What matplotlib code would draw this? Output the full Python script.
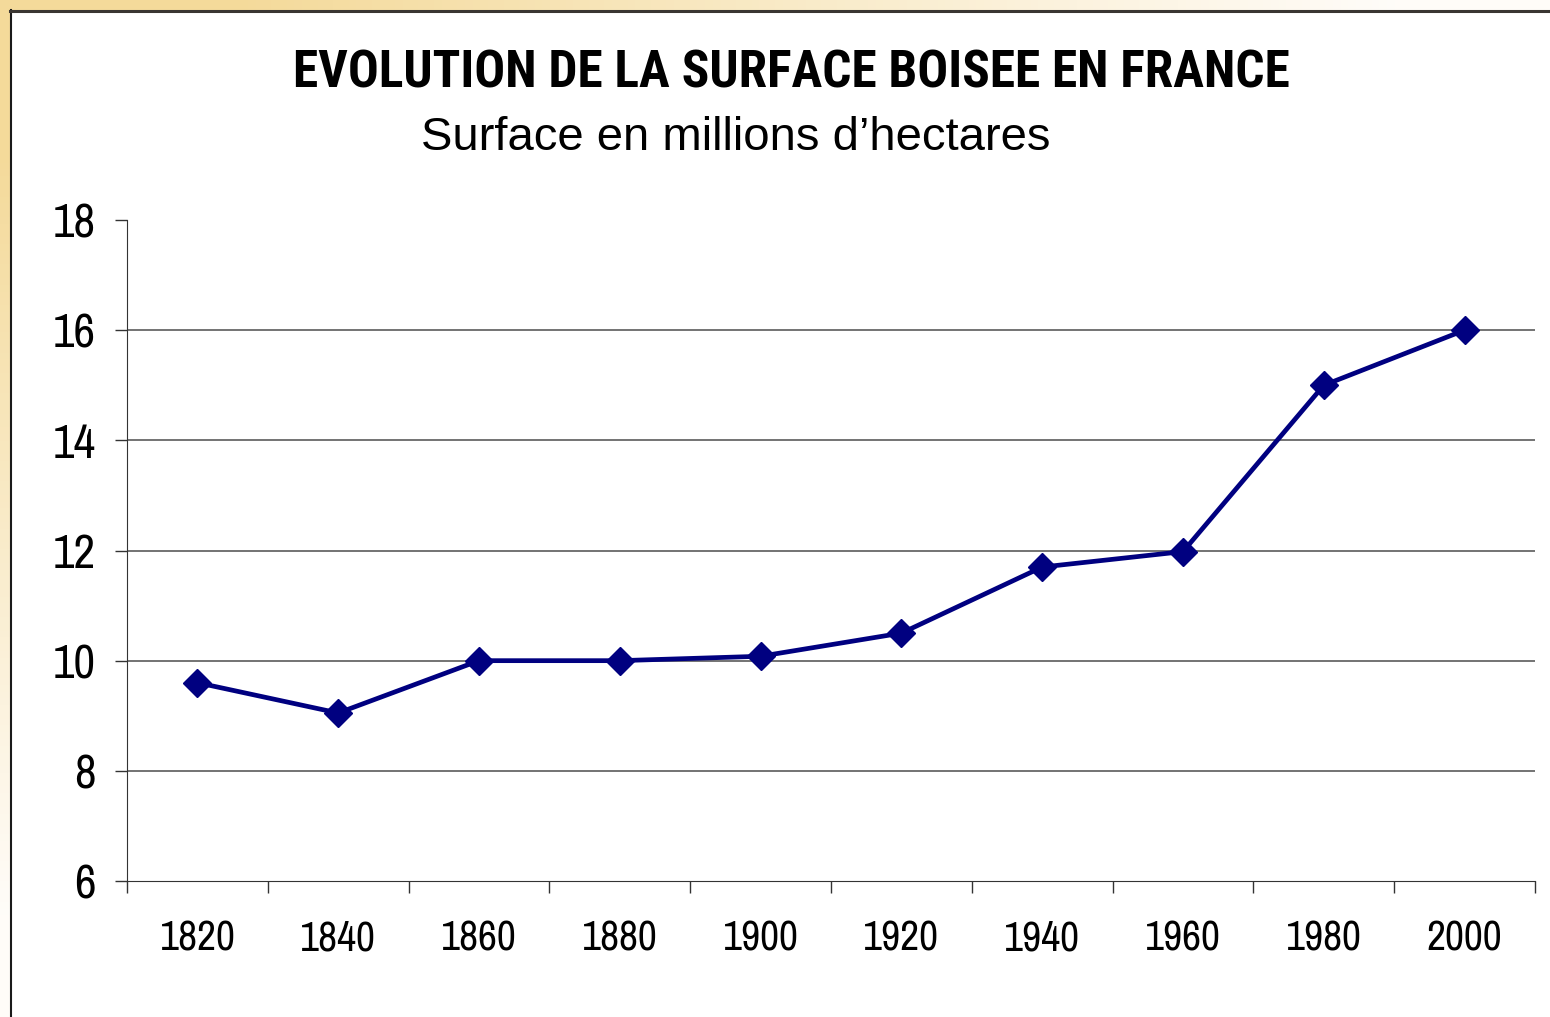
import numpy as np
import matplotlib
matplotlib.use("Agg")
import matplotlib.pyplot as plt
from matplotlib.ticker import FixedLocator, NullFormatter

years = ['1820', '1840', '1860', '1880', '1900', '1920', '1940', '1960', '1980', '2000']
surface = [9.6, 9.05, 10.0, 10.0, 10.08, 10.5, 11.7, 11.98, 15.0, 16.0]
y_ticks = [6, 8, 10, 12, 14, 16, 18]

title = 'EVOLUTION DE LA SURFACE BOISEE EN FRANCE'
subtitle = 'Surface en millions d\u2019hectares'

narrow = ['Archivo Narrow', 'Roboto Condensed', 'Liberation Sans', 'DejaVu Sans']
narrow_bold = ['Roboto Condensed', 'Liberation Sans', 'DejaVu Sans']
regular = ['Liberation Sans', 'DejaVu Sans']

W, H = 1550, 1017
fig = plt.figure(figsize=(W / 100, H / 100), dpi=100)

# background: pale yellow gradient from the top-left corner, white panel on top
bg = fig.add_axes([0, 0, 1, 1])
bg.set_xlim(0, W)
bg.set_ylim(H, 0)
bg.axis('off')
gx, gy = np.meshgrid(np.linspace(0, 1, 200), np.linspace(0, 1, 150))
t = np.clip((np.sqrt(gx ** 2 + gy ** 2) - 0.15) / 0.75, 0, 1)[..., None]
yellow = np.array([0.957, 0.855, 0.604])
white = np.array([1.0, 0.99, 0.975])
grad = yellow * (1 - t) + white * t
bg.imshow(grad, extent=(0, W, H, 0), aspect='auto', zorder=0)
bg.add_patch(plt.Rectangle((11, 11), W, H, facecolor='white', edgecolor='none', zorder=1))
bg.plot([10.5, 10.5], [10, H], color='#1a1a1a', lw=1.5, zorder=2)
bg.plot([10, W], [10.5, 10.5], color='#3a3632', lw=2.2, zorder=2)

fig.text(791 / W, 1 - 73 / H, title, ha='center', va='center',
         fontsize=37, fontweight='bold', family=narrow_bold)
fig.text(736 / W, 1 - 138 / H, subtitle, ha='center', va='center',
         fontsize=34, family=regular)

ax = fig.add_axes([127 / W, 1 - 881 / H, (1535 - 127) / W, (881 - 220) / H])
ax.set_facecolor('none')
x = np.arange(len(years))
ax.plot(x, surface, color='#000080', lw=3.4, marker='D', markersize=14,
        markerfacecolor='#000080', markeredgecolor='#000080', zorder=3)

ax.set_xlim(-0.5, len(years) - 0.5)
ax.set_ylim(6, 18)
ax.set_yticks(y_ticks)
for v in y_ticks[1:-1]:
    ax.axhline(v, color='#4d4d4d', lw=1.1, zorder=1)

ax.xaxis.set_major_locator(FixedLocator(np.arange(len(years) + 1) - 0.5))
ax.xaxis.set_major_formatter(NullFormatter())
ax.xaxis.set_minor_locator(FixedLocator(x))
ax.set_xticklabels(years, minor=True)
ax.tick_params(axis='x', which='major', direction='out', length=8.5, width=1, color='#333333')
ax.tick_params(axis='x', which='minor', length=0, pad=28, labelsize=30)
ax.tick_params(axis='y', direction='out', length=8.5, width=1, color='#333333', pad=14, labelsize=34)
for lab in ax.get_xticklabels(minor=True) + ax.get_yticklabels():
    lab.set_family(narrow)

ax.spines['top'].set_visible(False)
ax.spines['right'].set_visible(False)
ax.spines['left'].set_color('#333333')
ax.spines['bottom'].set_color('#333333')

fig.savefig('out.png', dpi=100)
